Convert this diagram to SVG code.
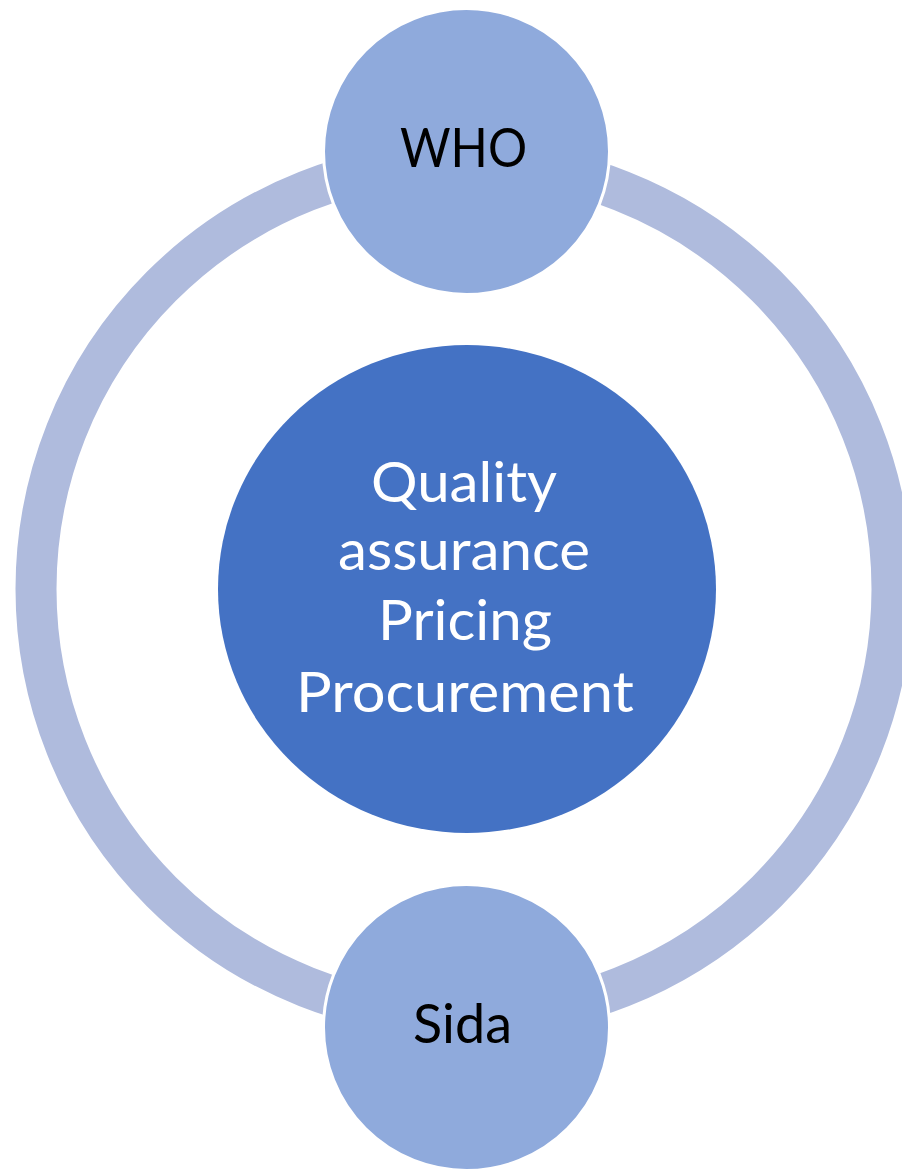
<svg xmlns="http://www.w3.org/2000/svg" width="902" height="1172" viewBox="0 0 902 1172">
<style>
.ring{fill:none;stroke:#AFBBDD;stroke-width:41}
.sat{fill:#8FAADC;stroke:#FFFFFF;stroke-width:3}
.hub{fill:#4472C4}
.lbl{font-family:Lato,"Open Sans","Noto Sans",sans-serif;text-anchor:middle}
.dark{fill:#000000;font-size:55px}
.light{fill:#FFFFFF;font-size:57px}
</style>
<rect width="902" height="1172" fill="#FFFFFF"/>
<g id="connectors">
<circle class="ring" cx="464" cy="589" r="428"/>
</g>
<g id="hub">
<ellipse class="hub" cx="467" cy="589" rx="249" ry="244"/>
<text class="lbl light" x="464" y="502" textLength="186" lengthAdjust="spacingAndGlyphs">Quality</text>
<text class="lbl light" x="464" y="570" textLength="252" lengthAdjust="spacingAndGlyphs">assurance</text>
<text class="lbl light" x="465" y="640" textLength="174" lengthAdjust="spacingAndGlyphs">Pricing</text>
<text class="lbl light" x="465" y="712" textLength="338" lengthAdjust="spacingAndGlyphs">Procurement</text>
</g>
<g id="who">
<circle class="sat" cx="466.5" cy="151.5" r="143"/>
<text class="lbl dark" x="463.5" y="167" textLength="127" lengthAdjust="spacingAndGlyphs">WHO</text>
</g>
<g id="sida">
<circle class="sat" cx="466.5" cy="1027.5" r="143"/>
<text class="lbl dark" x="462.5" y="1043" textLength="99" lengthAdjust="spacingAndGlyphs">Sida</text>
</g>
</svg>
